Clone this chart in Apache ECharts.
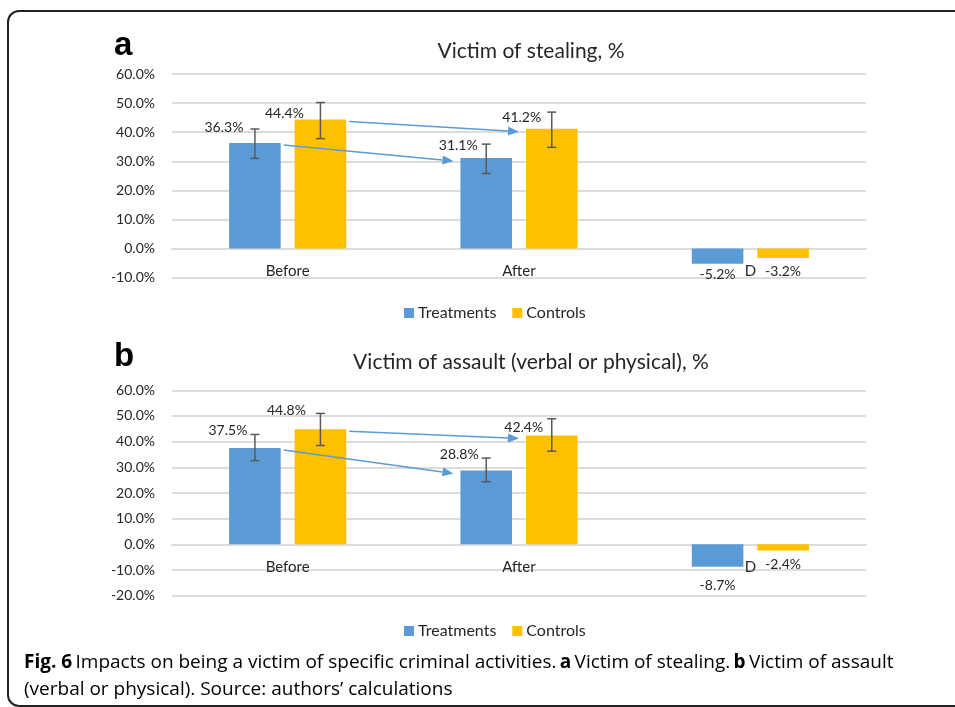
<!DOCTYPE html>
<html>
<head>
<meta charset="utf-8">
<script src="https://cdn.jsdelivr.net/npm/echarts@6/dist/echarts.min.js"></script>
<style>html,body{margin:0;padding:0;background:#fff;}#main{width:955px;height:707px;}</style>
</head>
<body>
<div id="main"></div>
<script>
// ---- data ----
const categories = ['Before', 'After', 'D'];
const seriesNames = ['Treatments', 'Controls'];
const stealTreat = [36.3, 31.1, -5.2];
const stealCtrl = [44.4, 41.2, -3.2];
const stealTreatErr = [[0, 31.0, 41.1], [1, 25.8, 35.9]];   // [category, low, high]
const stealCtrlErr = [[0, 37.8, 50.2], [1, 34.8, 46.9]];
const assaultTreat = [37.5, 28.8, -8.7];
const assaultCtrl = [44.8, 42.4, -2.4];
const assaultTreatErr = [[0, 32.6, 42.8], [1, 24.4, 33.6]];
const assaultCtrlErr = [[0, 38.5, 51.0], [1, 36.3, 48.9]];
const stealAxis = { min: -10, max: 60, interval: 10 };
const assaultAxis = { min: -20, max: 60, interval: 10 };
const titleA = 'Victim of stealing, %';
const titleB = 'Victim of assault (verbal or physical), %';

// ---- styles / layout ----
const BLUE = '#5B9BD5', GOLD = '#FFC000', GRID = '#dcdcdc', TXT = '#262626';
const FONT = 'Lato, "Open Sans", sans-serif';
const BAR_W = 0.223, BAR_GAP = 0.27;
const grids = [
  { left: 172, right: 89, top: 74, height: 203.7 },
  { left: 172, right: 89, top: 390.3, height: 205.4 }
];
const labelOffA = [[[-31, -7], [-28, -5], [0, 3]], [[-36, 2.5], [-30, -3], [0, 6]]];
const labelOffB = [[[-27, -10], [-27, -7.5], [0, 11]], [[-34, -11], [-28, -0.5], [0, 6]]];

function sideOffset(api, side) {
  const band = api.size([1, 0])[0];
  const w = band * BAR_W;
  return { off: (side ? 1 : -1) * (w / 2 + w * BAR_GAP / 2), w: w };
}

function barSeries(name, vals, color, gridIdx, offs) {
  return {
    type: 'bar', name: name, xAxisIndex: gridIdx, yAxisIndex: gridIdx,
    barWidth: (BAR_W * 100) + '%', barGap: (BAR_GAP * 100) + '%',
    itemStyle: { color: color },
    emphasis: { disabled: true },
    data: vals.map((v, i) => ({
      value: v,
      label: {
        show: true, position: v >= 0 ? 'top' : 'bottom', distance: 0,
        offset: offs[i], formatter: (p) => p.value.toFixed(1) + '%',
        fontFamily: FONT, fontSize: 14, lineHeight: 16, color: TXT
      }
    }))
  };
}

function errSeries(data, side, gridIdx) {
  return {
    type: 'custom', name: 'err' + gridIdx + side, xAxisIndex: gridIdx, yAxisIndex: gridIdx,
    silent: true, z: 5,
    encode: { x: 0, y: [1, 2] },
    data: data,
    renderItem: function (params, api) {
      const so = sideOffset(api, side);
      const lo = api.coord([api.value(0), api.value(1)]);
      const hi = api.coord([api.value(0), api.value(2)]);
      const x = lo[0] + so.off;
      const cap = 4.5;
      const st = { stroke: '#595959', lineWidth: 1.5 };
      return {
        type: 'group', children: [
          { type: 'line', shape: { x1: x, y1: lo[1], x2: x, y2: hi[1] }, style: st },
          { type: 'line', shape: { x1: x - cap, y1: lo[1], x2: x + cap, y2: lo[1] }, style: st },
          { type: 'line', shape: { x1: x - cap, y1: hi[1], x2: x + cap, y2: hi[1] }, style: st }
        ]
      };
    }
  };
}

function arrowSeries(vals, side, gridIdx) {
  // arrow from bar at category 0 to bar at category 1 of the same group
  return {
    type: 'custom', name: 'arrow' + gridIdx + side, xAxisIndex: gridIdx, yAxisIndex: gridIdx,
    silent: true, z: 6,
    encode: { x: [0, 2], y: [1, 3] },
    data: [[0, vals[0], 1, vals[1]]],
    renderItem: function (params, api) {
      const so = sideOffset(api, side);
      const a = api.coord([api.value(0), api.value(1)]);
      const b = api.coord([api.value(2), api.value(3)]);
      const x1 = a[0] + so.off + so.w / 2 + 3, y1 = a[1] + 2;
      const x2 = b[0] + so.off - so.w / 2 - 7, y2 = b[1] + 3;
      const dx = x2 - x1, dy = y2 - y1, len = Math.sqrt(dx * dx + dy * dy);
      const ux = dx / len, uy = dy / len, L = 11, H = 4.5;
      const bx = x2 - ux * L, by = y2 - uy * L;
      return {
        type: 'group', children: [
          { type: 'line', shape: { x1: x1, y1: y1, x2: bx, y2: by }, style: { stroke: BLUE, lineWidth: 1.5 } },
          { type: 'polygon', shape: { points: [[x2, y2], [bx - uy * H, by + ux * H], [bx + uy * H, by - ux * H]] }, style: { fill: BLUE } }
        ]
      };
    }
  };
}

function xAxis(gridIdx, ax) {
  // place the category axis at the value 0 of the value axis
  const zeroOffset = -(0 - ax.min) / (ax.max - ax.min) * grids[gridIdx].height;
  return {
    type: 'category', gridIndex: gridIdx, data: categories, position: 'bottom', offset: zeroOffset,
    axisLine: { onZero: false, lineStyle: { color: GRID, width: 2 } },
    axisTick: { show: false },
    axisLabel: { margin: 15, fontFamily: FONT, fontSize: 15, color: TXT },
    splitLine: { show: false }
  };
}
function yAxis(gridIdx, ax) {
  return {
    type: 'value', gridIndex: gridIdx, min: ax.min, max: ax.max, interval: ax.interval,
    axisLine: { show: false }, axisTick: { show: false },
    axisLabel: { margin: 17, fontFamily: FONT, fontSize: 14, color: TXT, formatter: (v) => v.toFixed(1) + '%' },
    splitLine: { lineStyle: { color: GRID, width: 2 } }
  };
}
function legend(top) {
  return {
    data: seriesNames, left: 404, top: top, padding: 0, icon: 'rect',
    itemWidth: 10, itemHeight: 10, itemGap: 16, selectedMode: false,
    textStyle: { fontFamily: FONT, fontSize: 16, color: TXT, padding: [0, 0, 0, -1] }
  };
}

const chart = echarts.init(document.getElementById('main'), null, { renderer: 'canvas' });
const CAP_FONT = '"Open Sans", Lato, sans-serif';
const captionRich = {
  b: { fontFamily: CAP_FONT, fontSize: 19, fontWeight: 'bold', color: '#222' },
  n: { fontFamily: CAP_FONT, fontSize: 19, color: '#555' }
};
chart.setOption({
  animation: false,
  backgroundColor: '#fff',
  grid: grids,
  xAxis: [xAxis(0, stealAxis), xAxis(1, assaultAxis)],
  yAxis: [yAxis(0, stealAxis), yAxis(1, assaultAxis)],
  legend: [legend(305), legend(623)],
  series: [
    barSeries(seriesNames[0], stealTreat, BLUE, 0, labelOffA[0]),
    barSeries(seriesNames[1], stealCtrl, GOLD, 0, labelOffA[1]),
    errSeries(stealTreatErr, 0, 0),
    errSeries(stealCtrlErr, 1, 0),
    arrowSeries(stealTreat, 0, 0),
    arrowSeries(stealCtrl, 1, 0),
    barSeries(seriesNames[0], assaultTreat, BLUE, 1, labelOffB[0]),
    barSeries(seriesNames[1], assaultCtrl, GOLD, 1, labelOffB[1]),
    errSeries(assaultTreatErr, 0, 1),
    errSeries(assaultCtrlErr, 1, 1),
    arrowSeries(assaultTreat, 0, 1),
    arrowSeries(assaultCtrl, 1, 1)
  ],
  graphic: [
    { type: 'rect', z: 100, shape: { x: 8, y: 11, width: 1000, height: 695, r: 11 }, style: { fill: 'none', stroke: '#222', lineWidth: 2 } },
    { type: 'text', x: 114, y: 46, style: { text: 'a', font: 'bold 33px "Liberation Sans", Arial, sans-serif', fill: '#000', textVerticalAlign: 'middle' } },
    { type: 'text', x: 114, y: 357, style: { text: 'b', font: 'bold 33px "Liberation Sans", Arial, sans-serif', fill: '#000', textVerticalAlign: 'middle' } },
    { type: 'text', x: 531, y: 51, style: { text: titleA, font: '21px ' + FONT, fill: TXT, textAlign: 'center', textVerticalAlign: 'middle' } },
    { type: 'text', x: 531, y: 362, style: { text: titleB, font: '21px ' + FONT, fill: TXT, textAlign: 'center', textVerticalAlign: 'middle' } },
    { type: 'text', x: 24, y: 663, style: { text: '{b|Fig. 6} {n|Impacts on being a victim of specific criminal activities.} {b|a} {n|Victim of stealing.} {b|b} {n|Victim of assault}', rich: captionRich, textVerticalAlign: 'middle' } },
    { type: 'text', x: 24, y: 690, style: { text: '{n|(verbal or physical). Source: authors\u2019 calculations}', rich: captionRich, textVerticalAlign: 'middle' } }
  ]
});
</script>
</body>
</html>
